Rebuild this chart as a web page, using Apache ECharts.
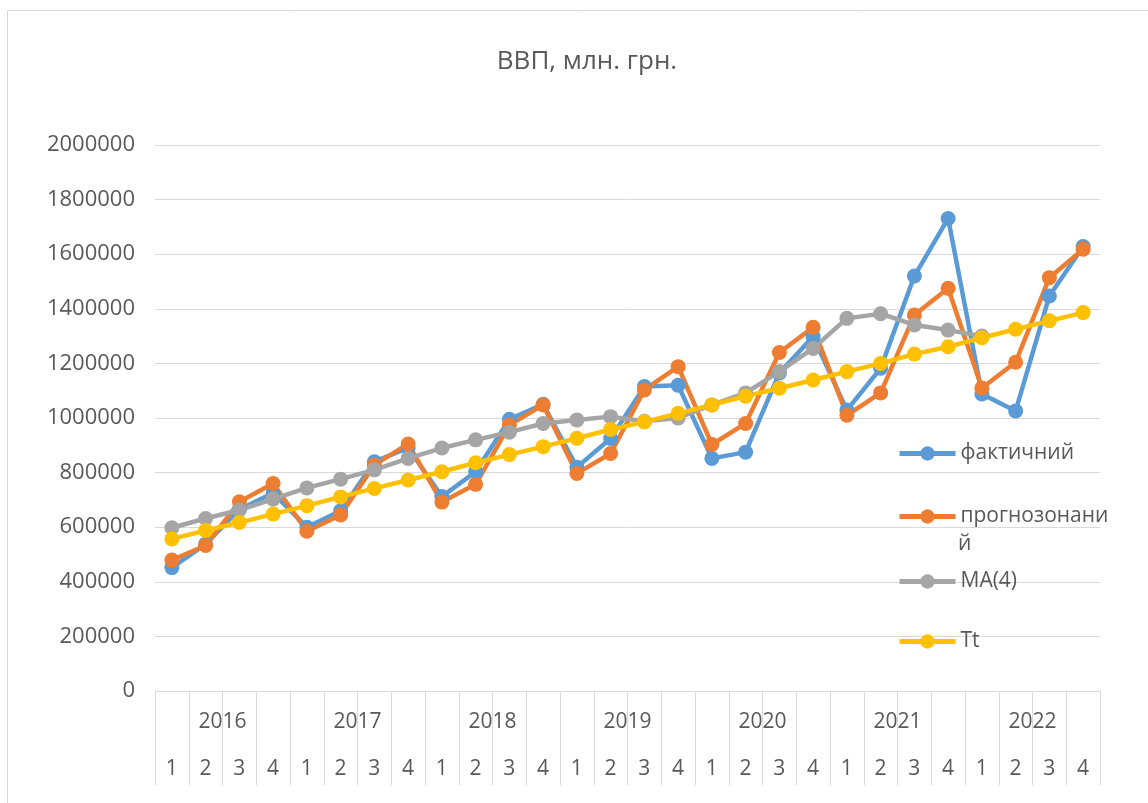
<!DOCTYPE html>
<html>
<head>
<meta charset="utf-8">
<script src="https://cdn.jsdelivr.net/npm/echarts@6/dist/echarts.min.js"></script>
<style>
  html, body { margin: 0; padding: 0; background: #fff; }
  #chart { width: 1148px; height: 803px; }
</style>
</head>
<body>
<div id="chart"></div>
<script>
// кварталы и годы
const quarters = ['1', '2', '3', '4', '1', '2', '3', '4', '1', '2', '3', '4', '1', '2', '3', '4',
  '1', '2', '3', '4', '1', '2', '3', '4', '1', '2', '3', '4']
const years = ['2016', '2017', '2018', '2019', '2020', '2021', '2022']

const yTicks = [0, 200000, 400000, 600000, 800000, 1000000, 1200000, 1400000, 1600000, 1800000, 2000000]

const factual = [452000, 538000, 665000, 725000, 600000, 660000, 840000, 890000, 712000, 803000,
  995000, 1050000, 820000, 925000, 1115000, 1120000, 852000, 875000, 1165000, 1298000,
  1029000, 1182000, 1520000, 1731000, 1088000, 1026000, 1447000, 1628000]

const forecast = [480000, 533000, 693000, 760000, 585000, 645000, 828000, 905000, 692000, 757000,
  974000, 1048000, 797000, 870000, 1103000, 1188000, 903000, 980000, 1240000, 1332000,
  1010000, 1092000, 1377000, 1475000, 1110000, 1204000, 1514000, 1618000]

const ma4 = [598000, 632000, 663000, 703000, 744000, 776000, 810000, 852000, 890000, 920000,
  948000, 980000, 993000, 1005000, 988000, 1000000, 1048000, 1092000, 1170000, 1255000,
  1365000, 1382000, 1341000, 1322000, 1300000, null, null, null]

const trend = [557000, 588000, 617000, 648000, 679000, 711000, 742000, 773000, 803000, 836000,
  866000, 895000, 926000, 958000, 986000, 1017000, 1048000, 1080000, 1109000, 1139000,
  1170000, 1200000, 1234000, 1261000, 1294000, 1325000, 1356000, 1386000]

const seriesNames = ['фактичний', 'прогнозонаний', 'MA(4)', 'Tt']
const colors = ['#5B9BD5', '#ED7D31', '#A5A5A5', '#FFC000']

const font = 'Open Sans'
const textColor = '#595959'

const chart = echarts.init(document.getElementById('chart'))

const mkSeries = (i, data) => ({
  name: seriesNames[i],
  type: 'line',
  data: data,
  color: colors[i],
  symbol: 'circle',
  symbolSize: 15,
  lineStyle: { width: 4.5 },
  connectNulls: false,
  animation: false
})

// центры строк легенды
const legendCenters = [452, 515, 580, 640]
const legends = seriesNames.map((name, i) => ({
  data: [name],
  left: 897,
  top: legendCenters[i] - 9,
  padding: 0,
  orient: 'vertical',
  itemWidth: 56,
  itemHeight: 18,
  itemGap: 5,
  selectedMode: false,
  lineStyle: { width: 5 },
  // длинное имя переносится как в Excel
  formatter: (n) => n === 'прогнозонаний' ? 'прогнозонани' : n,
  textStyle: { fontFamily: font, fontSize: 21, color: textColor }
}))

const option = {
  animation: false,
  title: {
    text: 'ВВП, млн. грн.',
    left: 582,
    textAlign: 'center',
    top: 44,
    textStyle: { fontFamily: font, fontSize: 26, fontWeight: 'normal', color: textColor }
  },
  graphic: [{
    type: 'rect',
    shape: { x: 7.5, y: 10.5, width: 1200, height: 850 },
    style: { fill: null, stroke: '#d9d9d9', lineWidth: 1 },
    silent: true
  }, {
    type: 'text',
    left: 958,
    top: legendCenters[1] + 19,
    style: { text: 'й', fontFamily: font, fontSize: 21, fill: textColor },
    silent: true
  }],
  legend: legends,
  grid: { left: 155, right: 48, top: 145, bottom: 112 },
  xAxis: [{
    type: 'category',
    data: quarters,
    boundaryGap: true,
    axisLine: { lineStyle: { color: '#d9d9d9', width: 1 } },
    axisTick: { show: true, interval: 0, length: 94, lineStyle: { color: '#d9d9d9', width: 1 } },
    axisLabel: { interval: 0, margin: 68, fontFamily: font, fontSize: 21, color: textColor }
  }, {
    type: 'category',
    data: years,
    position: 'bottom',
    offset: 0,
    boundaryGap: true,
    axisLine: { show: false },
    axisTick: { show: false },
    axisLabel: { interval: 0, margin: 21, fontFamily: font, fontSize: 21, color: textColor }
  }],
  yAxis: {
    type: 'value',
    min: yTicks[0],
    max: yTicks[yTicks.length - 1],
    interval: yTicks[1] - yTicks[0],
    axisLine: { show: false },
    axisTick: { show: false },
    splitLine: { lineStyle: { color: '#d9d9d9', width: 1 } },
    axisLabel: {
      margin: 20,
      fontFamily: font,
      fontSize: 22,
      color: textColor,
      formatter: (v) => String(v)
    }
  },
  series: [
    mkSeries(0, factual),
    mkSeries(1, forecast),
    mkSeries(2, ma4),
    mkSeries(3, trend)
  ]
}

chart.setOption(option)
</script>
</body>
</html>
